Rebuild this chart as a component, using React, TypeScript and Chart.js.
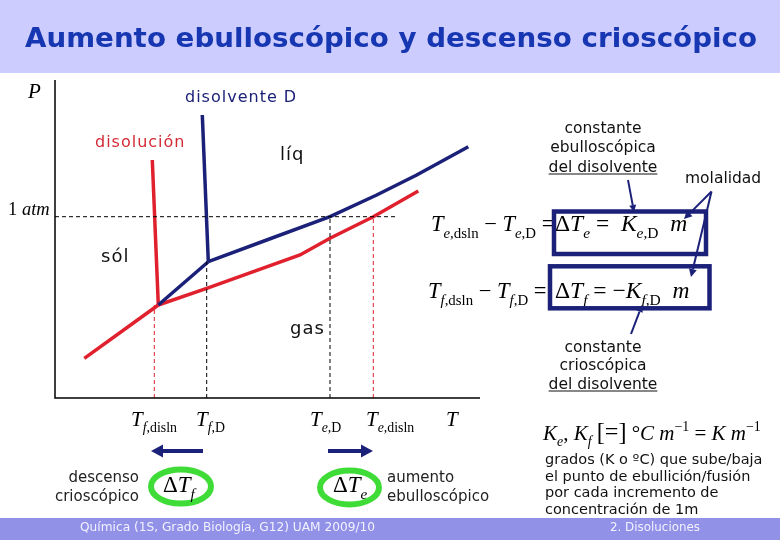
import React, { useEffect, useRef } from "react";
import { Chart, registerables } from "chart.js";

Chart.register(...registerables);

// ---- data (temperature units along T axis, pressure units along P axis) ----
const axisMaxT = 425;
const axisMaxP = 318;

const solventFusionT = [147.3, 153.3];
const solventFusionP = [283, 136.3];
const solventSublimT = [103.3, 153.3];
const solventSublimP = [93, 136.3];
const solventVaporT = [153.3, 211.7, 275, 321.7, 361.7, 413.3];
const solventVaporP = [136.3, 158, 181.3, 203, 223, 251.3];

const solutionFusionT = [97.3, 103.3];
const solutionFusionP = [238, 93];
const solutionSublimT = [29.3, 103.3];
const solutionSublimP = [39.7, 93];
const solutionVaporT = [103.3, 151.7, 245, 275, 318.3, 363.3];
const solutionVaporP = [93, 109.7, 143, 159.7, 181.3, 207];

const oneAtmP = 181.3;
const oneAtmEndT = 341;
const TfSolution = 99.3;
const TfSolvent = 151.7;
const TeSolvent = 275;
const TeSolution = 318.3;
const TfSolutionTop = 93;
const TfSolventTop = 136.3;

const NAVY = "#1b2178";
const RED = "#e0202c";
const GREEN = "#3fdc38";
const SERIF = '"Liberation Serif", "Times New Roman", serif';
const SANS = '"DejaVu Sans", Verdana, sans-serif';

type Seg = { t: string; it?: boolean; sub?: boolean; sup?: boolean; scale?: number };

function zip(xs: number[], ys: number[]) {
  return xs.map((x, i) => ({ x, y: ys[i] }));
}

function drawMath(ctx: CanvasRenderingContext2D, segs: Seg[], x: number, y: number, size: number, color = "#000") {
  let cx = x;
  ctx.fillStyle = color;
  ctx.textAlign = "left";
  ctx.textBaseline = "alphabetic";
  for (const s of segs) {
    const sz = s.sub || s.sup ? size * 0.66 : size * (s.scale || 1);
    const dy = s.sub ? size * 0.3 : s.sup ? -size * 0.42 : 0;
    ctx.font = `${s.it ? "italic " : ""}${sz}px ${SERIF}`;
    ctx.fillText(s.t, cx, y + dy);
    cx += ctx.measureText(s.t).width;
  }
  return cx;
}

function text(ctx: CanvasRenderingContext2D, s: string, x: number, y: number, size: number, color = "#111", align: CanvasTextAlign = "left", spacing = 0, underline = false) {
  ctx.font = `${size}px ${SANS}`;
  (ctx as any).letterSpacing = `${spacing}px`;
  ctx.fillStyle = color;
  ctx.textAlign = align;
  ctx.textBaseline = "alphabetic";
  ctx.fillText(s, x, y);
  if (underline) {
    const w = ctx.measureText(s).width;
    const x0 = align === "center" ? x - w / 2 : align === "right" ? x - w : x;
    ctx.strokeStyle = color;
    ctx.lineWidth = 1;
    ctx.beginPath();
    ctx.moveTo(x0, y + 2.5);
    ctx.lineTo(x0 + w, y + 2.5);
    ctx.stroke();
  }
  (ctx as any).letterSpacing = "0px";
}

function fitText(ctx: CanvasRenderingContext2D, s: string, cx: number, y: number, size: number, width: number, font: string, color: string) {
  ctx.font = `${font} ${size}px ${SANS}`;
  const w = ctx.measureText(s).width;
  ctx.save();
  ctx.translate(cx, y);
  ctx.scale(width / w, 1);
  ctx.fillStyle = color;
  ctx.textAlign = "center";
  ctx.textBaseline = "alphabetic";
  ctx.fillText(s, 0, 0);
  ctx.restore();
}

function arrow(ctx: CanvasRenderingContext2D, x1: number, y1: number, x2: number, y2: number, lw: number, hl: number, hw: number, color = NAVY) {
  const a = Math.atan2(y2 - y1, x2 - x1);
  const bx = x2 - Math.cos(a) * hl;
  const by = y2 - Math.sin(a) * hl;
  ctx.strokeStyle = color;
  ctx.fillStyle = color;
  ctx.lineWidth = lw;
  ctx.beginPath();
  ctx.moveTo(x1, y1);
  ctx.lineTo(bx, by);
  ctx.stroke();
  ctx.beginPath();
  ctx.moveTo(x2, y2);
  ctx.lineTo(bx + Math.sin(a) * hw, by - Math.cos(a) * hw);
  ctx.lineTo(bx - Math.sin(a) * hw, by + Math.cos(a) * hw);
  ctx.closePath();
  ctx.fill();
}

const slidePlugin = {
  id: "slide",
  beforeDraw(chart: any) {
    const ctx: CanvasRenderingContext2D = chart.ctx;
    ctx.save();
    ctx.fillStyle = "#ffffff";
    ctx.fillRect(0, 0, 780, 540);
    ctx.fillStyle = "#ccccff";
    ctx.fillRect(0, 0, 780, 73);
    ctx.fillStyle = "#9191e8";
    ctx.fillRect(0, 518, 780, 22);
    fitText(ctx, "Aumento ebulloscópico y descenso crioscópico", 391, 47, 27, 732, "bold", "#1636b2");
    ctx.restore();
  },
  afterDatasetsDraw(chart: any) {
    const ctx: CanvasRenderingContext2D = chart.ctx;
    const a = chart.chartArea;
    ctx.save();
    // axes
    ctx.strokeStyle = "#000";
    ctx.lineWidth = 1.5;
    ctx.beginPath();
    ctx.moveTo(a.left, a.top);
    ctx.lineTo(a.left, a.bottom);
    ctx.lineTo(a.right, a.bottom);
    ctx.stroke();

    // axis labels
    drawMath(ctx, [{ t: "P", it: true }], 28, 98, 21);
    drawMath(ctx, [{ t: "1" }, { t: " atm", it: true }], 8, 215, 18.5);
    drawMath(ctx, [{ t: "T", it: true }, { t: "f", it: true, sub: true }, { t: ",disln", sub: true }], 131, 426, 21);
    drawMath(ctx, [{ t: "T", it: true }, { t: "f", it: true, sub: true }, { t: ",D", sub: true }], 196, 426, 21);
    drawMath(ctx, [{ t: "T", it: true }, { t: "e", it: true, sub: true }, { t: ",D", sub: true }], 310, 426, 21);
    drawMath(ctx, [{ t: "T", it: true }, { t: "e", it: true, sub: true }, { t: ",disln", sub: true }], 366, 426, 21);
    drawMath(ctx, [{ t: "T", it: true }], 446, 426, 21);

    // region labels
    text(ctx, "disolvente D", 185, 102, 16, NAVY, "left", 1);
    text(ctx, "disolución", 95, 147, 16, "#d42a36", "left", 1);
    text(ctx, "líq", 280, 160, 18, "#111", "left", 1);
    text(ctx, "sól", 101, 262, 18, "#111", "left", 1);
    text(ctx, "gas", 290, 334, 18, "#111", "left", 1);

    // bottom arrows and ellipses
    arrow(ctx, 203, 451, 151, 451, 4, 12, 6.5);
    arrow(ctx, 328, 451, 373, 451, 4, 12, 6.5);
    ctx.strokeStyle = GREEN;
    ctx.lineWidth = 6;
    ctx.beginPath();
    ctx.ellipse(181, 486.5, 30, 17, 0, 0, Math.PI * 2);
    ctx.stroke();
    ctx.beginPath();
    ctx.ellipse(349.5, 487.5, 29.5, 17, 0, 0, Math.PI * 2);
    ctx.stroke();
    drawMath(ctx, [{ t: "Δ" }, { t: "T", it: true }, { t: "f", it: true, sub: true }], 163, 492, 23);
    drawMath(ctx, [{ t: "Δ" }, { t: "T", it: true }, { t: "e", it: true, sub: true }], 333, 492, 23);
    text(ctx, "descenso", 139, 482, 15, "#222", "right");
    text(ctx, "crioscópico", 139, 501, 15, "#222", "right");
    text(ctx, "aumento", 387, 482, 15, "#222", "left");
    text(ctx, "ebulloscópico", 387, 501, 15, "#222", "left");

    // equations
    drawMath(ctx, [
      { t: "T", it: true }, { t: "e", it: true, sub: true }, { t: ",dsln", sub: true },
      { t: " − " }, { t: "T", it: true }, { t: "e", it: true, sub: true }, { t: ",D", sub: true }, { t: " =" },
    ], 431, 231, 22.5);
    drawMath(ctx, [
      { t: "Δ" }, { t: "T", it: true }, { t: "e", it: true, sub: true }, { t: " =  " },
      { t: "K", it: true }, { t: "e", it: true, sub: true }, { t: ",D", sub: true }, { t: "  m", it: true },
    ], 555, 231, 23.5);
    drawMath(ctx, [
      { t: "T", it: true }, { t: "f", it: true, sub: true }, { t: ",dsln", sub: true },
      { t: " − " }, { t: "T", it: true }, { t: "f", it: true, sub: true }, { t: ",D", sub: true }, { t: " =" },
    ], 428, 298, 22.5);
    drawMath(ctx, [
      { t: "Δ" }, { t: "T", it: true }, { t: "f", it: true, sub: true }, { t: " = −" },
      { t: "K", it: true }, { t: "f", it: true, sub: true }, { t: ",D", sub: true }, { t: "  m", it: true },
    ], 555, 298, 23.5);
    ctx.strokeStyle = NAVY;
    ctx.lineWidth = 4.5;
    ctx.strokeRect(554, 211.5, 152, 42.5);
    ctx.strokeRect(550, 266.3, 159.5, 42);

    // annotations
    text(ctx, "constante", 603, 133, 15.5, "#111", "center");
    text(ctx, "ebulloscópica", 603, 152, 15.5, "#111", "center");
    text(ctx, "del disolvente", 603, 171.5, 15.5, "#111", "center", 0, true);
    text(ctx, "molalidad", 685, 183, 15.5, "#111", "left");
    text(ctx, "constante", 603, 351.5, 15.5, "#111", "center");
    text(ctx, "crioscópica", 603, 370, 15.5, "#111", "center");
    text(ctx, "del disolvente", 603, 388.5, 15.5, "#111", "center", 0, true);
    arrow(ctx, 628, 180, 634, 212, 2, 7, 3.5);
    arrow(ctx, 711.5, 191.5, 684, 219, 2, 8, 4);
    arrow(ctx, 711.5, 191.5, 691, 277, 2, 8, 4);
    arrow(ctx, 631, 334, 642, 305, 2, 7, 3.5);

    // bottom right
    drawMath(ctx, [
      { t: "K", it: true }, { t: "e", it: true, sub: true }, { t: ", " }, { t: "K", it: true }, { t: "f", it: true, sub: true },
      { t: " " }, { t: "[=]", scale: 1.15 }, { t: " °" }, { t: "C", it: true }, { t: " m", it: true }, { t: "−1", sup: true },
      { t: " = " }, { t: "K", it: true }, { t: " m", it: true }, { t: "−1", sup: true },
    ], 543, 440, 21);
    text(ctx, "grados (K o ºC) que sube/baja", 545, 464, 14.5, "#111");
    text(ctx, "el punto de ebullición/fusión", 545, 480.5, 14.5, "#111");
    text(ctx, "por cada incremento de", 545, 497, 14.5, "#111");
    text(ctx, "concentración de 1m", 545, 513.5, 14.5, "#111");

    // footer
    fitText(ctx, "Química (1S, Grado Biología, G12) UAM 2009/10", 227.5, 531, 12.5, 295, "", "#f2f2ff");
    fitText(ctx, "2. Disoluciones", 655, 531, 12.5, 90, "", "#f2f2ff");
    ctx.restore();
  },
};

export default function App() {
  const ref = useRef<HTMLCanvasElement>(null);
  useEffect(() => {
    document.body.style.margin = "0";
    const line = (data: any[], color: string, width: number, dash: number[] = []) => ({
      data,
      borderColor: color,
      backgroundColor: color,
      borderWidth: width,
      borderDash: dash,
      showLine: true,
      pointRadius: 0,
      tension: 0,
      fill: false,
      clip: false,
    });
    const chart = new Chart(ref.current!, {
      type: "scatter",
      data: {
        datasets: [
          line([{ x: 0, y: oneAtmP }, { x: oneAtmEndT, y: oneAtmP }], "#000", 1, [4, 3]),
          line([{ x: TfSolution, y: 0 }, { x: TfSolution, y: TfSolutionTop }], RED, 1, [4, 3]),
          line([{ x: TfSolvent, y: 0 }, { x: TfSolvent, y: TfSolventTop }], "#000", 1, [4, 3]),
          line([{ x: TeSolvent, y: 0 }, { x: TeSolvent, y: oneAtmP }], "#000", 1, [4, 3]),
          line([{ x: TeSolution, y: 0 }, { x: TeSolution, y: oneAtmP }], RED, 1, [4, 3]),
          line(zip(solventFusionT, solventFusionP), NAVY, 3.5),
          line(zip(solventSublimT, solventSublimP), NAVY, 3.5),
          line(zip(solventVaporT, solventVaporP), NAVY, 3.5),
          line(zip(solutionFusionT, solutionFusionP), RED, 3.5),
          line(zip(solutionSublimT, solutionSublimP), RED, 3.5),
          line(zip(solutionVaporT, solutionVaporP), RED, 3.5),
        ] as any,
      },
      options: {
        animation: false,
        responsive: false,
        devicePixelRatio: 1,
        layout: { padding: { left: 55, top: 80, right: 300, bottom: 142 } },
        plugins: { legend: { display: false }, tooltip: { enabled: false } },
        scales: {
          x: { type: "linear", min: 0, max: axisMaxT, display: false },
          y: { type: "linear", min: 0, max: axisMaxP, display: false },
        },
      },
      plugins: [slidePlugin],
    });
    return () => chart.destroy();
  }, []);
  return (
    <div style={{ position: "absolute", left: 0, top: 0, width: 780, height: 540 }}>
      <canvas ref={ref} width={780} height={540} />
    </div>
  );
}
